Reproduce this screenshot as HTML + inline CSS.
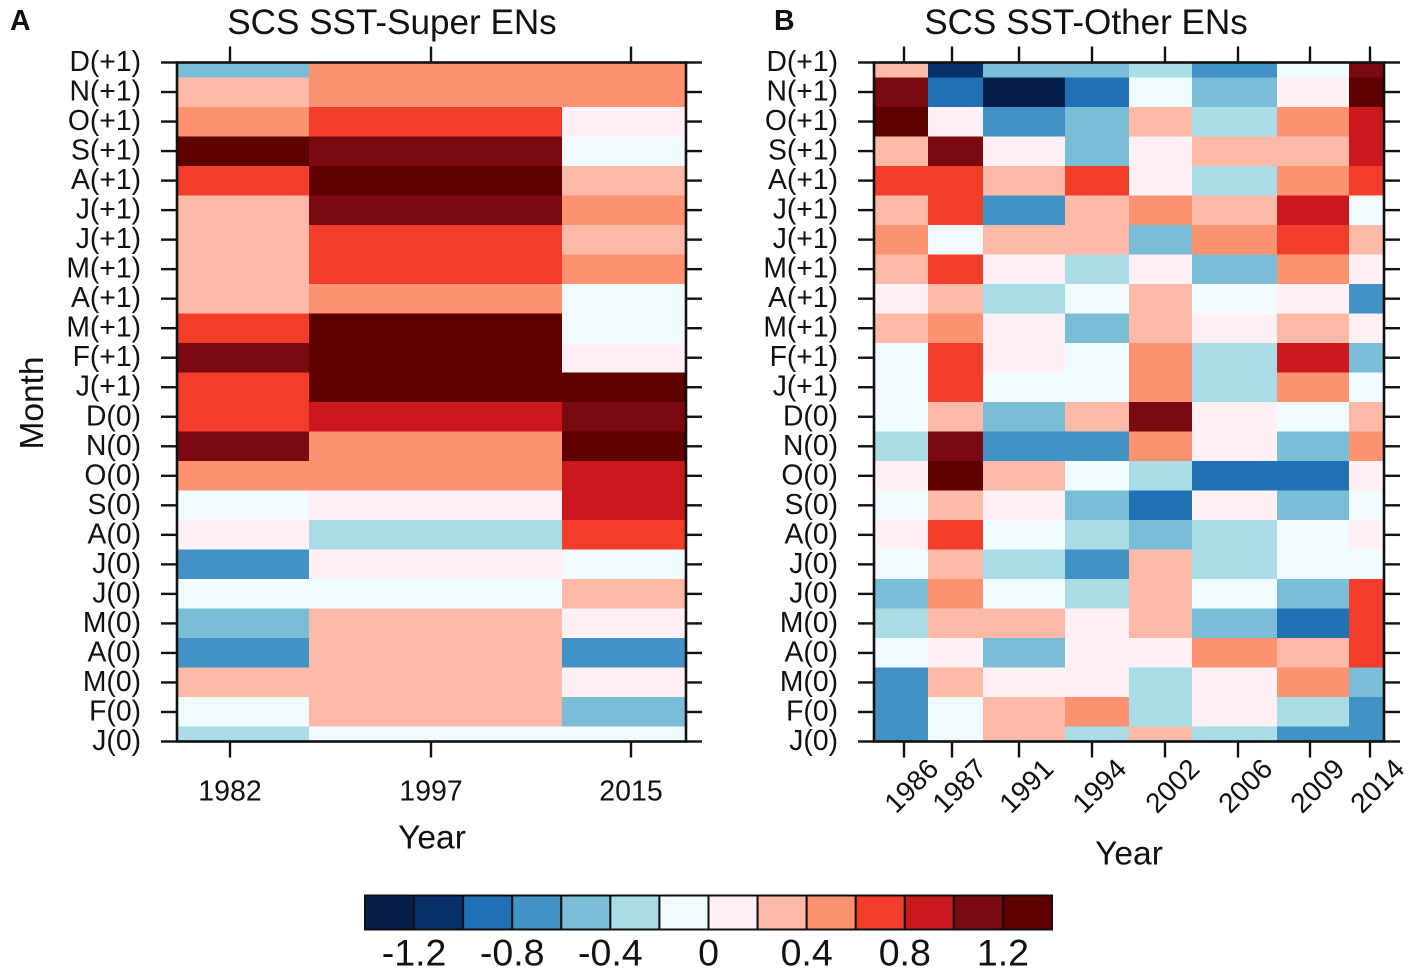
<!DOCTYPE html>
<html lang="en">
<head>
<meta charset="utf-8">
<title>SCS SST heatmaps</title>
<style>
html,body{margin:0;padding:0;background:#fff;width:1416px;height:968px;overflow:hidden}
svg{display:block}
text{font-family:"Liberation Sans",Arial,sans-serif;fill:#111}
</style>
</head>
<body>
<svg id="chart" xmlns="http://www.w3.org/2000/svg" width="1416" height="968" viewBox="0 0 1416 968">
  <text x="10" y="30" font-size="28.5" font-weight="bold">A</text>
  <text x="774" y="30" font-size="28.5" font-weight="bold">B</text>
  <text x="392" y="34" font-size="35.1" text-anchor="middle">SCS SST-Super ENs</text>
  <text x="1086" y="34" font-size="35.1" text-anchor="middle">SCS SST-Other ENs</text>
  <text x="0" y="0" font-size="33.5" text-anchor="middle" transform="translate(43 403) rotate(-90)">Month</text>
  <text x="432" y="848.5" font-size="33.5" text-anchor="middle">Year</text>
  <text x="1129" y="864.5" font-size="33.5" text-anchor="middle">Year</text>
</svg>
<script>
// ---- chart data ----
const months = ["D(+1)","N(+1)","O(+1)","S(+1)","A(+1)","J(+1)","J(+1)","M(+1)","A(+1)","M(+1)","F(+1)","J(+1)","D(0)","N(0)","O(0)","S(0)","A(0)","J(0)","J(0)","M(0)","A(0)","M(0)","F(0)","J(0)"];
const superYears = ["1982","1997","2015"];
const otherYears = ["1986","1987","1991","1994","2002","2006","2009","2014"];
const superValues = [
 [-0.5,0.5,0.5],[0.3,0.5,0.5],[0.5,0.7,0.1],[1.3,1.1,-0.1],[0.7,1.3,0.3],[0.3,1.1,0.5],
 [0.3,0.7,0.3],[0.3,0.7,0.5],[0.3,0.5,-0.1],[0.7,1.3,-0.1],[1.1,1.3,0.1],[0.7,1.3,1.3],
 [0.7,0.9,1.1],[1.1,0.5,1.3],[0.5,0.5,0.9],[-0.1,0.1,0.9],[0.1,-0.3,0.7],[-0.7,0.1,-0.1],
 [-0.1,-0.1,0.3],[-0.5,0.3,0.1],[-0.7,0.3,-0.7],[0.3,0.3,0.1],[-0.1,0.3,-0.5],[-0.3,-0.1,-0.1]
];
const otherValues = [
 [0.3,-1.1,-0.5,-0.5,-0.3,-0.7,-0.1,1.1],
 [1.1,-0.9,-1.3,-0.9,-0.1,-0.5,0.1,1.3],
 [1.3,0.1,-0.7,-0.5,0.3,-0.3,0.5,0.9],
 [0.3,1.1,0.1,-0.5,0.1,0.3,0.3,0.9],
 [0.7,0.7,0.3,0.7,0.1,-0.3,0.5,0.7],
 [0.3,0.7,-0.7,0.3,0.5,0.3,0.9,-0.1],
 [0.5,-0.1,0.3,0.3,-0.5,0.5,0.7,0.3],
 [0.3,0.7,0.1,-0.3,0.1,-0.5,0.5,0.1],
 [0.1,0.3,-0.3,-0.1,0.3,-0.1,0.1,-0.7],
 [0.3,0.5,0.1,-0.5,0.3,0.1,0.3,0.1],
 [-0.1,0.7,0.1,-0.1,0.5,-0.3,0.9,-0.5],
 [-0.1,0.7,-0.1,-0.1,0.5,-0.3,0.5,-0.1],
 [-0.1,0.3,-0.5,0.3,1.1,0.1,-0.1,0.3],
 [-0.3,1.1,-0.7,-0.7,0.5,0.1,-0.5,0.5],
 [0.1,1.3,0.3,-0.1,-0.3,-0.9,-0.9,0.1],
 [-0.1,0.3,0.1,-0.5,-0.9,0.1,-0.5,-0.1],
 [0.1,0.7,-0.1,-0.3,-0.5,-0.3,-0.1,0.1],
 [-0.1,0.3,-0.3,-0.7,0.3,-0.3,-0.1,-0.1],
 [-0.5,0.5,-0.1,-0.3,0.3,-0.1,-0.5,0.7],
 [-0.3,0.3,0.3,0.1,0.3,-0.5,-0.9,0.7],
 [-0.1,0.1,-0.5,0.1,0.1,0.5,0.3,0.7],
 [-0.7,0.3,0.1,0.1,-0.3,0.1,0.5,-0.5],
 [-0.7,-0.1,0.3,0.5,-0.3,0.1,-0.3,-0.7],
 [-0.7,-0.1,0.3,-0.3,0.3,-0.3,-0.7,-0.7]
];
const colorbarTicks = [-1.2,-0.8,-0.4,0,0.4,0.8,1.2];
const levelStart = -1.2;
const levelStep = 0.2;
const palette = ["#051e49","#08306b","#2171b5","#4292c6","#7abdd6","#aadce6","#f0fbff","#fff0f5","#fdb9a8","#fd9270","#f33d2b","#cb181d","#7a0910","#5e0000"];

// ---- layout ----
const svg = document.getElementById('chart');
const NS = 'http://www.w3.org/2000/svg';
const INK = '#111';
const plotTop = 62.5, plotBottom = 741.5;

function mk(tag, attrs, parent) {
  const el = document.createElementNS(NS, tag);
  for (const k in attrs) el.setAttribute(k, attrs[k]);
  (parent || svg).appendChild(el);
  return el;
}
function yScale(i) {
  return plotTop + i * (plotBottom - plotTop) / (months.length - 1);
}
function colorFor(v) {
  const idx = Math.floor((v - levelStart) / levelStep) + 1;
  return palette[Math.max(0, Math.min(palette.length - 1, idx))];
}

function drawPanel(p) {
  const group = mk('g', {});
  
  
  const totalUnits = p.colUnits.reduce((a, b) => a + b, 0);
  const xScale = u => p.left + u * (p.right - p.left) / totalUnits;

  // heatmap cells
  p.values.forEach((row, r) => {
    let cum = 0;
    row.forEach((v, c) => {
      const x0 = xScale(cum);
      cum += p.colUnits[c];
      const x1 = xScale(cum);
      const y0 = Math.max(plotTop, yScale(r - 0.5));
      const y1 = Math.min(plotBottom, yScale(r + 0.5));
      const cell = mk('rect', {x: x0, y: y0, width: x1 - x0, height: y1 - y0, fill: colorFor(v), 'shape-rendering': 'crispEdges'}, group);
      
      
    });
  });

  // frame
  const frame = mk('rect', {x: p.left, y: plotTop, width: p.right - p.left, height: plotBottom - plotTop, fill: 'none', stroke: INK, 'stroke-width': 2.6}, group);
  
  

  // y ticks + labels
  months.forEach((m, i) => {
    const y = yScale(i);
    const lt = mk('line', {x1: p.left - 16, x2: p.left, y1: y, y2: y, stroke: INK, 'stroke-width': 2.4}, group);
    
    
    const rt = mk('line', {x1: p.right, x2: p.right + 16, y1: y, y2: y, stroke: INK, 'stroke-width': 2.4}, group);
    
    
    const t = mk('text', {x: p.left - 36, y: y + 8.5, 'font-size': 28.3, 'text-anchor': 'end'}, group);
    t.textContent = m;
    
    
  });

  // x ticks + labels
  p.years.forEach((yr, i) => {
    const x = xScale(p.tickUnits[i]);
    const tt = mk('line', {x1: x, x2: x, y1: plotTop - 16, y2: plotTop, stroke: INK, 'stroke-width': 2.4}, group);
    
    
    const bt = mk('line', {x1: x, x2: x, y1: plotBottom, y2: plotBottom + 16, stroke: INK, 'stroke-width': 2.4}, group);
    
    
    const t = mk('text', {'font-size': p.rotate ? 28 : 28.5, 'text-anchor': 'middle'}, group);
    t.textContent = yr;
    if (p.rotate) {
      t.setAttribute('transform', 'translate(' + (x + 7) + ' 785.5) rotate(-45)');
      t.setAttribute('y', 10);
    } else {
      t.setAttribute('x', x);
      t.setAttribute('y', 800.5);
    }
    
    
  });
}

drawPanel({name: 'panel-a-super-ens', left: 177, right: 686, colUnits: [132,253,124], tickUnits: [53,254,454], years: superYears, values: superValues, rotate: false});
drawPanel({name: 'panel-b-other-ens', left: 874, right: 1384, colUnits: [54,55,82,64,63,85,72,35], tickUnits: [30,78,145,218,291,364,436,496], years: otherYears, values: otherValues, rotate: true});

// ---- colorbar ----
const barLeft = 365, barRight = 1052, barTop = 895.5, barBottom = 929.5;
function barScale(v) {
  const lo = levelStart - levelStep;
  const hi = lo + palette.length * levelStep;
  return barLeft + (v - lo) / (hi - lo) * (barRight - barLeft);
}
const colorbar = mk('g', {});


palette.forEach((col, i) => {
  const v0 = levelStart + (i - 1) * levelStep;
  const x0 = barScale(v0);
  const x1 = barScale(v0 + levelStep);
  const box = mk('rect', {x: x0, y: barTop, width: x1 - x0, height: barBottom - barTop, fill: col, stroke: INK, 'stroke-width': 2}, colorbar);
  
  
});
colorbarTicks.forEach(v => {
  const t = mk('text', {x: barScale(v), y: 965.5, 'font-size': 37.5, 'text-anchor': 'middle'}, colorbar);
  t.textContent = String(v);
  
  
});
</script>
</body>
</html>
